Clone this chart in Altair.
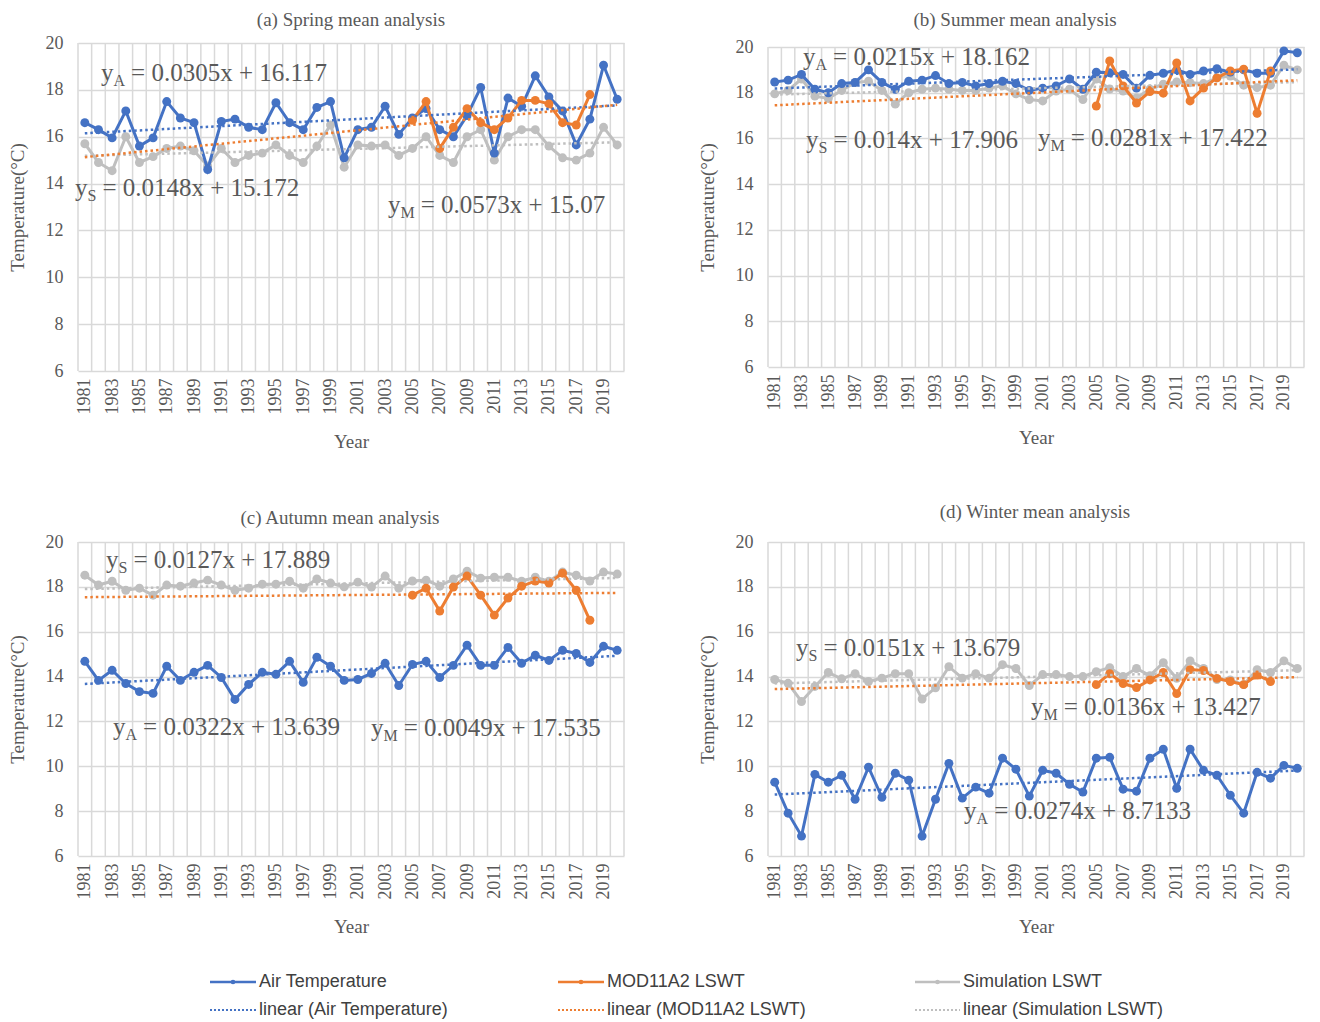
import altair as alt
import pandas as pd

years = list(range(1981, 2021))
mod_years = list(range(2005, 2019))

# ---------------- data ----------------
air_spring = [16.6, 16.3, 15.95, 17.1, 15.6, 15.95, 17.5, 16.8, 16.6, 14.6,
              16.65, 16.75, 16.4, 16.3, 17.45, 16.6, 16.3, 17.25, 17.5, 15.1,
              16.3, 16.4, 17.3, 16.1, 16.8, 17.2, 16.3, 16.0, 16.9, 18.1,
              15.3, 17.65, 17.3, 18.6, 17.7, 17.1, 15.65, 16.75, 19.05, 17.6]
sim_spring = [15.7, 14.9, 14.55, 16.0, 14.9, 15.15, 15.5, 15.6, 15.4, 14.75,
              15.5, 14.9, 15.2, 15.3, 15.65, 15.2, 14.9, 15.6, 16.5, 14.7,
              15.65, 15.6, 15.65, 15.2, 15.5, 16.0, 15.2, 14.9, 16.0, 16.3,
              15.0, 16.0, 16.3, 16.3, 15.6, 15.1, 15.0, 15.3, 16.4, 15.65]
mod_spring = [16.7, 17.5, 15.5, 16.4, 17.2, 16.6, 16.3, 16.8, 17.55, 17.55,
              17.4, 16.6, 16.5, 17.8]

air_summer = [18.47, 18.55, 18.8, 18.15, 18.0, 18.4, 18.45, 19.0, 18.45, 18.15,
              18.5, 18.55, 18.75, 18.4, 18.45, 18.3, 18.4, 18.5, 18.4, 18.1,
              18.2, 18.3, 18.6, 18.15, 18.9, 18.87, 18.8, 18.2, 18.76, 18.85,
              19.0, 18.8, 18.95, 19.05, 18.9, 19.0, 18.85, 18.85, 19.83, 19.75]
sim_summer = [17.95, 18.1, 18.6, 17.85, 17.75, 18.1, 18.45, 18.5, 18.1, 17.5,
              18.0, 18.15, 18.2, 18.15, 18.1, 18.1, 18.2, 18.3, 17.95, 17.7,
              17.64, 18.07, 18.15, 17.7, 18.6, 18.16, 18.07, 17.77, 18.16, 18.37,
              18.47, 18.44, 18.4, 18.65, 18.73, 18.33, 18.22, 18.33, 19.2, 19.0]
mod_summer = [17.42, 19.39, 18.3, 17.55, 18.05, 17.98, 19.3, 17.64, 18.2, 18.65,
              18.95, 19.03, 17.1, 18.95]

air_autumn = [14.68, 13.83, 14.28, 13.69, 13.33, 13.25, 14.46, 13.83, 14.19, 14.5,
              13.96, 12.98, 13.65, 14.19, 14.1, 14.68, 13.74, 14.86, 14.46, 13.83,
              13.87, 14.14, 14.59, 13.6, 14.54, 14.68, 13.96, 14.5, 15.4, 14.5,
              14.5, 15.3, 14.59, 14.95, 14.72, 15.17, 15.03, 14.63, 15.35, 15.17]
sim_autumn = [18.52, 18.08, 18.25, 17.85, 17.94, 17.63, 18.08, 18.03, 18.17, 18.3,
              18.08, 17.85, 17.94, 18.12, 18.12, 18.25, 17.94, 18.35, 18.17, 18.0,
              18.21, 17.99, 18.48, 17.94, 18.26, 18.3, 18.03, 18.35, 18.7, 18.39,
              18.43, 18.43, 18.25, 18.43, 18.25, 18.66, 18.52, 18.26, 18.66, 18.57]
mod_autumn = [17.63, 17.94, 16.92, 17.99, 18.48, 17.63, 16.74, 17.5, 18.03, 18.26,
              18.17, 18.61, 17.85, 16.51]

air_winter = [9.29, 7.91, 6.89, 9.64, 9.29, 9.6, 8.53, 9.96, 8.62, 9.69,
              9.38, 6.89, 8.53, 10.13, 8.58, 9.07, 8.8, 10.36, 9.87, 8.67,
              9.82, 9.69, 9.2, 8.85, 10.36, 10.4, 8.98, 8.89, 10.36, 10.76,
              9.02, 10.76, 9.82, 9.6, 8.71, 7.91, 9.73, 9.47, 10.04, 9.91]
sim_winter = [13.87, 13.7, 12.89, 13.56, 14.18, 13.9, 14.13, 13.78, 13.93, 14.13,
              14.13, 13.0, 13.5, 14.44, 13.93, 14.13, 13.93, 14.53, 14.36, 13.6,
              14.09, 14.09, 14.0, 14.0, 14.22, 14.4, 14.0, 14.36, 14.04, 14.62,
              13.92, 14.7, 14.36, 13.87, 13.85, 13.64, 14.31, 14.18, 14.7, 14.36]
mod_winter = [13.64, 14.13, 13.69, 13.51, 13.85, 14.18, 13.24, 14.31, 14.27, 13.92,
              13.78, 13.64, 14.07, 13.78]

# trend equations printed on the chart: (slope, intercept), x = 1..40
trend_spring = {"A": (0.0305, 16.117), "S": (0.0148, 15.172), "M": (0.0573, 15.07)}
trend_summer = {"A": (0.0215, 18.162), "S": (0.014, 17.906), "M": (0.0281, 17.422)}
trend_autumn = {"A": (0.0322, 13.639), "S": (0.0127, 17.889), "M": (0.0049, 17.535)}
trend_winter = {"A": (0.0274, 8.7133), "S": (0.0151, 13.679), "M": (0.0136, 13.427)}

titles = ["(a) Spring mean analysis", "(b) Summer mean analysis",
          "(c) Autumn mean analysis", "(d) Winter mean analysis"]
series_names = ["Air Temperature", "MOD11A2 LSWT", "Simulation LSWT"]
trend_names = ["linear  (Air Temperature)", "linear (MOD11A2 LSWT)", "linear (Simulation LSWT)"]

# ---------------- style ----------------
AIR_C, MOD_C, SIM_C = "#4472C4", "#ED7D31", "#BFBFBF"
COLORS = {"A": AIR_C, "M": MOD_C, "S": SIM_C}
GRID_C = "#D9D9D9"
TEXT_C = "#595959"
SERIF = "Liberation Serif"
SANS = "Liberation Sans"

XS = alt.Scale(domain=[1980.5, 2020.5], nice=False, zero=False)
YS = alt.Scale(domain=[6, 20], nice=False, zero=False)
XA = alt.Axis(values=list(range(1981, 2021, 2)), format="d", labelAngle=-90,
              grid=False, domain=False, ticks=False, tickSize=0, labelPadding=7,
              labelFont=SERIF, labelFontSize=18, labelColor=TEXT_C,
              titleFont=SERIF, titleFontSize=19, titleFontWeight="normal",
              titleColor=TEXT_C, titlePadding=18)
YA = alt.Axis(values=list(range(6, 21, 2)), grid=True, gridColor=GRID_C, gridWidth=1.5,
              domain=False, ticks=False, tickSize=0, labelPadding=15,
              labelFont=SERIF, labelFontSize=18, labelColor=TEXT_C,
              titleFont=SERIF, titleFontSize=19, titleFontWeight="normal",
              titleColor=TEXT_C, titlePadding=18)


def X():
    return alt.X("year:Q", scale=XS, axis=XA, title="Year")


def Y():
    return alt.Y("value:Q", scale=YS, axis=YA, title="Temperature(°C)")


SUBW = {"A": 11.6, "S": 8.9, "M": 14.2}
ONE = pd.DataFrame({"k": [0]})


def make_panel(title, tx, ty, air, mod, sim, trend, notes, width, height, legend=False):
    layers = []
    bounds = [y - 0.5 for y in years] + [years[-1] + 0.5]
    layers.append(alt.Chart(pd.DataFrame({"year": bounds})).mark_rule(
        color=GRID_C, strokeWidth=1.5).encode(x=X()))

    def series(yrs, vals, color):
        df = pd.DataFrame({"year": yrs, "value": vals})
        return alt.Chart(df).mark_line(
            color=color, strokeWidth=3,
            point=alt.OverlayMarkDef(filled=True, size=80, color=color, opacity=1)
        ).encode(x=X(), y=Y())

    layers.append(series(years, sim, SIM_C))
    layers.append(series(years, air, AIR_C))
    layers.append(series(mod_years, mod, MOD_C))

    for key in ["S", "A", "M"]:
        slope, icpt = trend[key]
        df = pd.DataFrame({"year": [years[0], years[-1]],
                           "value": [slope * 1 + icpt, slope * len(years) + icpt]})
        layers.append(alt.Chart(df).mark_line(
            color=COLORS[key], strokeWidth=2.5, strokeDash=[2.5, 3]).encode(x=X(), y=Y()))

    for key, nx, ny in notes:
        slope, icpt = trend[key]
        rest = f"= {slope!r}x + {icpt!r}"
        df = pd.DataFrame({"year": [nx], "value": [ny]})
        layers.append(alt.Chart(df).mark_text(
            align="left", baseline="middle", font=SERIF, fontSize=25, color=TEXT_C
        ).encode(x=X(), y=Y(), text=alt.value("y")))
        layers.append(alt.Chart(df).mark_text(
            align="left", baseline="middle", font=SERIF, fontSize=16, color=TEXT_C,
            dx=12.5, dy=8).encode(x=X(), y=Y(), text=alt.value(key)))
        layers.append(alt.Chart(df).mark_text(
            align="left", baseline="middle", font=SERIF, fontSize=25, color=TEXT_C,
            dx=12.5 + SUBW[key] + 6).encode(x=X(), y=Y(), text=alt.value(rest)))

    # panel title
    layers.append(alt.Chart(ONE).mark_text(
        align="center", baseline="middle", font=SERIF, fontSize=19, color=TEXT_C
    ).encode(x=alt.value(tx), y=alt.value(ty), text=alt.value(title)))

    if legend:
        cols = [(132, 178, AIR_C), (480, 526, MOD_C), (837, 882, SIM_C)]
        for i, (x0, x1, c) in enumerate(cols):
            ya, yb = 440, 468
            layers.append(alt.Chart(ONE).mark_rule(color=c, strokeWidth=2.5).encode(
                x=alt.value(x0), x2=alt.value(x1), y=alt.value(ya)))
            layers.append(alt.Chart(ONE).mark_point(filled=True, size=22, color=c, opacity=1).encode(
                x=alt.value((x0 + x1) / 2), y=alt.value(ya)))
            layers.append(alt.Chart(ONE).mark_text(
                align="left", baseline="middle", font=SANS, fontSize=18, color="#404040"
            ).encode(x=alt.value(x1 + 3), y=alt.value(ya), text=alt.value(series_names[i])))
            layers.append(alt.Chart(ONE).mark_rule(color=c, strokeWidth=2, strokeDash=[2, 2]).encode(
                x=alt.value(x0), x2=alt.value(x1), y=alt.value(yb)))
            layers.append(alt.Chart(ONE).mark_text(
                align="left", baseline="middle", font=SANS, fontSize=18, color="#404040"
            ).encode(x=alt.value(x1 + 3), y=alt.value(yb), text=alt.value(trend_names[i])))

    return alt.layer(*layers).properties(width=width, height=height)


pa = make_panel(titles[0], 273, -23.5, air_spring, mod_spring, sim_spring, trend_spring,
                [("A", 1982.18, 18.72), ("S", 1980.28, 13.81), ("M", 2003.21, 13.09)], 546, 328)
pb = make_panel(titles[1], 247, -27.5, air_summer, mod_summer, sim_summer, trend_summer,
                [("A", 1983.11, 19.56), ("S", 1983.34, 15.93), ("M", 2000.65, 16.02)], 536, 320)
pc = make_panel(titles[2], 262, -24.5, air_autumn, mod_autumn, sim_autumn, trend_autumn,
                [("S", 1982.55, 19.2), ("A", 1983.06, 11.75), ("M", 2001.97, 11.71)], 546, 314,
                legend=True)
pd_ = make_panel(titles[3], 267, -30.5, air_winter, mod_winter, sim_winter, trend_winter,
                 [("S", 1982.59, 15.27), ("M", 2000.13, 12.64), ("A", 1995.13, 8.0)], 536, 314)

chart = alt.concat(pa, pb, pc, pd_, columns=2, spacing={"row": 171, "column": 144},
                   bounds="flush", center=True,
                   padding={"top": 2, "left": 0, "right": 0, "bottom": 0}
                   ).configure_view(stroke=None)

chart.save("out.html", embed_options={"renderer": "svg", "actions": False})
